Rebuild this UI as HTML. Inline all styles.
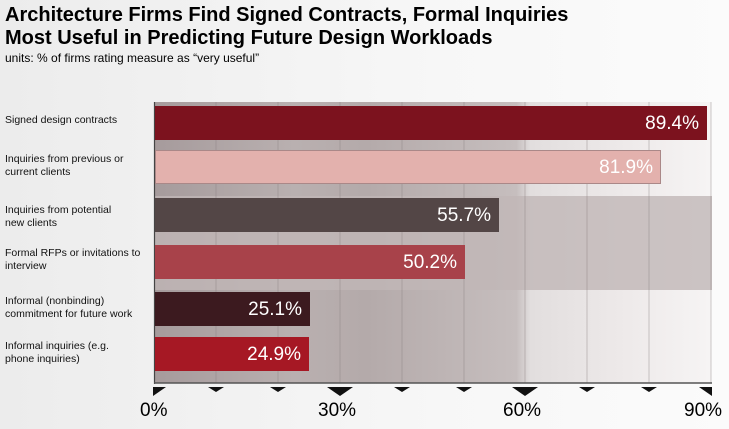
<!DOCTYPE html><html><head><style>
body{margin:0;width:729px;height:429px;overflow:hidden;background:linear-gradient(90deg,#ececec,#f7f7f7 60%,#fbfbfb);font-family:"Liberation Sans","DejaVu Sans",sans-serif;position:relative}
.t{position:absolute;left:5px;font-weight:bold;font-size:20px;color:#000;line-height:23px}
.u{position:absolute;left:5px;top:51px;font-size:12px}
.l{position:absolute;left:5px;font-size:10.5px;line-height:13px;color:#111}
.b{position:absolute;left:155px;height:34px;color:#fff;font-size:19px;text-align:right;box-sizing:border-box;padding-right:8px;line-height:36px}
.x{position:absolute;top:400px;font-size:19px}
</style></head><body>
<div class="t" style="top:4px">Architecture Firms Find Signed Contracts, Formal Inquiries<br>Most Useful in Predicting Future Design Workloads</div>
<div class="u">units: % of firms rating measure as “very useful”</div>
<div style="position:absolute;left:155px;top:102px;width:556px;height:281px;background:linear-gradient(90deg,#a69b9c 0%,#b9b0b0 25%,#b4aaaa 38%,#c6bebe 65%,#e2dede 67.5%,#eeeaea 85%,#f6f4f4 100%)"></div>
<div style="position:absolute;left:155px;top:196px;width:557px;height:94px;background:#c0b6b6;opacity:.8"></div>
<svg style="position:absolute;left:0;top:0" width="729" height="429">
<g stroke="#8a8080" stroke-width="0.7" opacity="0.6">
<line x1="216" y1="102" x2="216" y2="383"/><line x1="278" y1="102" x2="278" y2="383"/><line x1="340" y1="102" x2="340" y2="383"/><line x1="402" y1="102" x2="402" y2="383"/><line x1="464" y1="102" x2="464" y2="383"/><line x1="525" y1="102" x2="525" y2="383"/><line x1="587" y1="102" x2="587" y2="383"/><line x1="649" y1="102" x2="649" y2="383"/><line x1="711" y1="102" x2="711" y2="383"/></g>
<line x1="154.5" y1="102" x2="154.5" y2="384" stroke="#444" stroke-width="1.2"/>
<line x1="154" y1="383" x2="712" y2="383" stroke="#555" stroke-width="1.5"/>
<g fill="#111">
<polygon points="153,387 166,387 153,396"/>
<polygon points="208,387 224,387 216,392"/><polygon points="270,387 286,387 278,392"/>
<polygon points="327,387 353,387 340,396"/>
<polygon points="394,387 410,387 402,392"/><polygon points="456,387 472,387 464,392"/>
<polygon points="512,387 538,387 525,396"/>
<polygon points="579,387 595,387 587,392"/><polygon points="641,387 657,387 649,392"/>
<polygon points="699,387 712,387 712,396"/></g>
</svg>
<div class="b" style="top:106px;width:552px;background:#7c121e">89.4%</div>
<div class="b" style="top:150px;width:506px;background:#e3b1ad;box-shadow:inset 0 0 0 1px #a88">81.9%</div>
<div class="b" style="top:198px;width:344px;background:#534646">55.7%</div>
<div class="b" style="top:245px;width:310px;background:#a8424a">50.2%</div>
<div class="b" style="top:292px;width:155px;background:#3c1a1f">25.1%</div>
<div class="b" style="top:337px;width:154px;background:#a61824">24.9%</div>
<div class="l" style="top:114px">Signed design contracts</div>
<div class="l" style="top:153px">Inquiries from previous or<br>current clients</div>
<div class="l" style="top:204px">Inquiries from potential<br>new clients</div>
<div class="l" style="top:247px">Formal RFPs or invitations to<br>interview</div>
<div class="l" style="top:295px">Informal (nonbinding)<br>commitment for future work</div>
<div class="l" style="top:340px">Informal inquiries (e.g.<br>phone inquiries)</div>
<div class="x" style="left:140px">0%</div>
<div class="x" style="left:318px">30%</div>
<div class="x" style="left:503px">60%</div>
<div class="x" style="left:684px">90%</div>
</body></html>
